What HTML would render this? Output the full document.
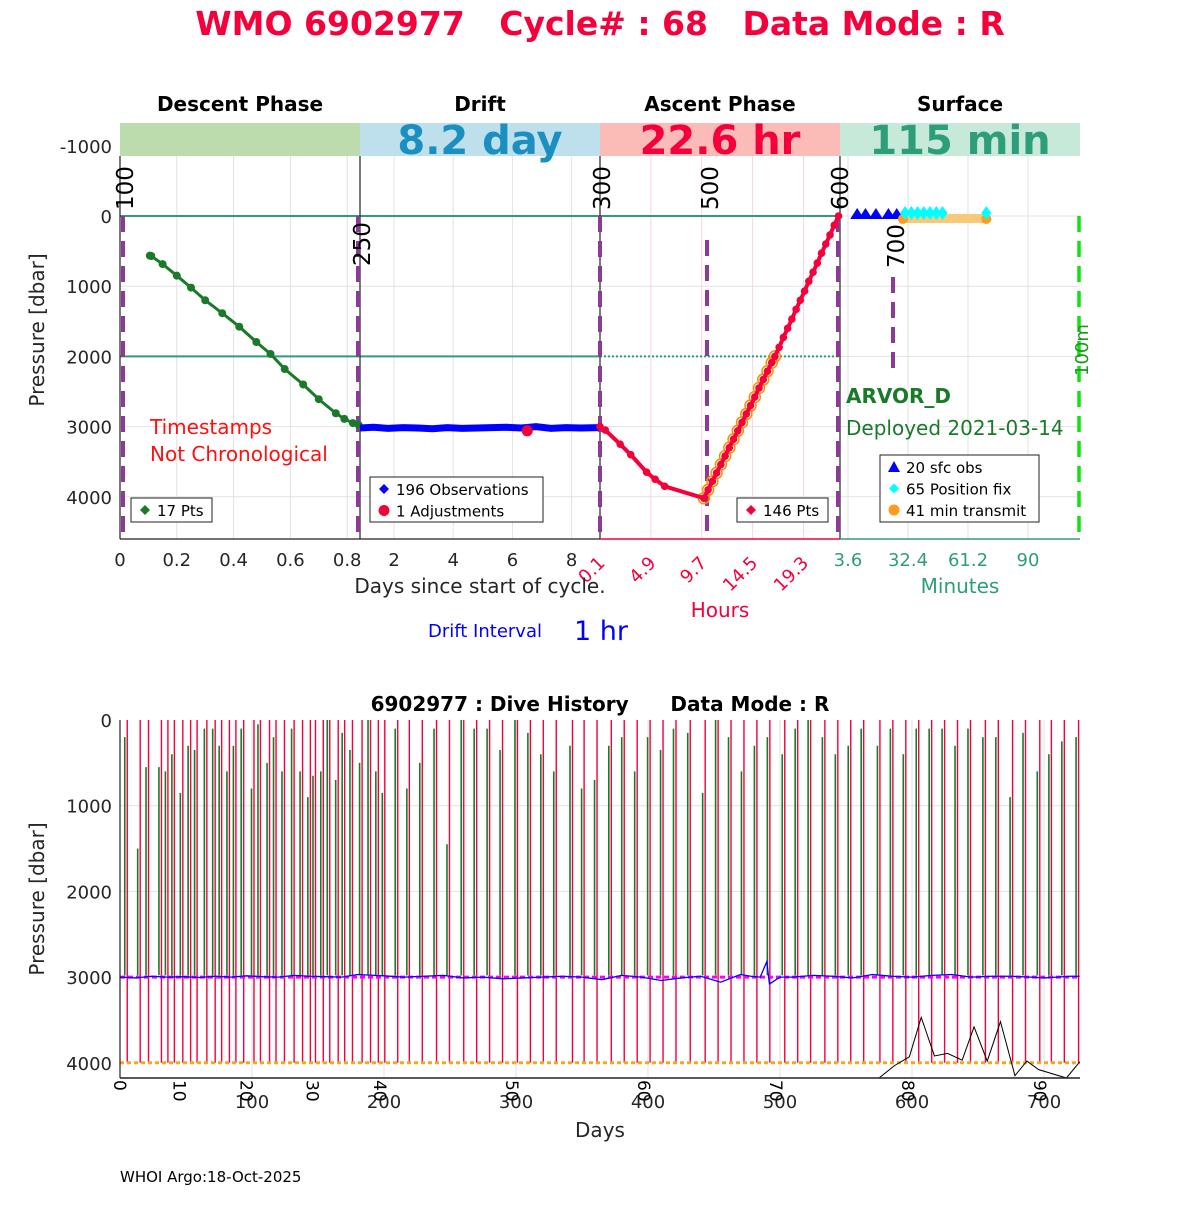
<!DOCTYPE html>
<html><head><meta charset="utf-8"><style>
body{margin:0;background:#fff}
svg text{font-family:"DejaVu Sans","Liberation Sans",sans-serif}
</style></head><body>
<svg id="s" width="1200" height="1200" viewBox="0 0 1200 1200" xmlns="http://www.w3.org/2000/svg">
<rect width="1200" height="1200" fill="#fff"/>
<text x="600" y="35" text-anchor="middle" font-size="33" font-weight="bold" fill="#f5003a" style="white-space:pre">WMO 6902977   Cycle# : 68   Data Mode : R</text>
<g id="top"></g>
<g id="bot"></g>
<text x="120" y="1182" font-size="15" fill="#000">WHOI Argo:18-Oct-2025</text>
</svg>
<script>
// ---- top panel data ----
const descDays=[0.105,0.11,0.15,0.2,0.25,0.3,0.36,0.42,0.48,0.53,0.58,0.645,0.7,0.76,0.79,0.82,0.84];
const descPres=[565,570,685,850,1020,1200,1385,1577,1795,1965,2180,2400,2610,2810,2890,2950,2975];
const driftDays=[0.85,1.3,1.8,2.3,2.8,3.3,3.8,4.3,4.8,5.3,5.8,6.3,6.8,7.3,7.8,8.3,8.9];
const driftPres=[3020,3010,3025,3015,3020,3030,3015,3025,3020,3015,3010,3020,3000,3025,3015,3020,3015];
const adjDays=[6.5];const adjPres=[3060];
const ascHours=[0.1,0.6,2,3,4.5,5.3,6.2,9.9,10.3,10.7,11.1,11.5,11.9,12.3,12.7,13.1,13.5,13.9,14.3,14.7,15.1,15.5,15.9,16.3,16.6,17.0,17.4,17.8,18.2,18.6,19.0,19.4,19.8,20.2,20.6,21.0,21.4,21.8,22.2,22.6];
const ascPres=[3000,3050,3250,3400,3650,3750,3850,4020,3900,3780,3660,3540,3420,3300,3180,3060,2940,2820,2700,2580,2450,2330,2210,2090,2000,1870,1730,1600,1470,1330,1200,1070,930,800,670,530,400,270,130,0];
const ringHours=[9.9,10.3,10.7,11.1,11.5,11.9,12.3,12.7,13.1,13.5,13.9,14.3,14.7,15.1,15.5,15.9,16.3,16.6];
const ringPres=[4020,3900,3780,3660,3540,3420,3300,3180,3060,2940,2820,2700,2580,2450,2330,2210,2090,2000];
const sfcObsMin=[8,12,17,23,27];
const fixMin=[31,34,37,40,43,46,49,70];
const transmitMin=[30,70];
const yTicks=[-1000,0,1000,2000,3000,4000];
const descTicks=[0,0.2,0.4,0.6,0.8];
const driftTicks=[2,4,6,8];
const ascTicks=[0.1,4.9,9.7,14.5,19.3];
const surfTicks=[3.6,32.4,61.2,90];
// ---- bottom panel data ----
const cycleDays=[5.5,15.3,21.6,31.4,36.3,41.2,47.6,53.5,58.4,65.8,72.1,77,82.9,87.8,93.7,101.5,106.4,113.3,118.2,124.6,131.9,138.3,144.2,148.1,154,158.9,165.3,170.2,176.1,183.4,189.8,195.7,200.6,210.4,219.2,229,239.8,249.6,260.4,270.2,280,289.8,301.1,310.9,320.7,330.5,342.8,351.6,361.4,372.2,382,391.8,401.6,411.4,421.2,432,443.3,453.1,462.9,472.7,482.5,492.3,503.6,513.4,523.2,534,543.8,553.6,563.4,575.7,585.5,595.3,605.1,614.9,624.7,634.5,644.3,655.6,665.4,676.2,686,696.8,705.6,715.4,726.2];
const greenTop=[200,1500,550,550,600,400,850,300,350,100,100,300,600,300,100,800,50,500,200,600,100,600,900,650,600,0,700,150,350,500,0,600,850,100,800,500,100,1450,0,100,100,350,0,150,400,600,300,800,700,300,200,600,200,350,100,150,850,0,200,600,300,200,400,100,0,200,400,300,100,300,100,400,100,100,100,300,100,200,200,900,150,600,400,250,200];
const driftHist=[3000,3010,2990,3000,2995,3005,2990,3000,2985,2995,3000,2980,2990,2995,3000,2970,2985,3000,2990,2980,3010,3000,3020,3010,3000,2990,3000,3030,2980,3000,3040,3010,2990,3060,2970,2990,3000,2820,3080,3000,3000,2980,2990,3010,2970,2990,3000,2980,2970,3000,2990,2990,3000,3010,3000,2990,2990];
const driftHistDays=[0,12,24,36,48,60,72,84,96,108,120,132,144,156,168,180,200,215,230,245,260,275,290,305,320,335,350,365,380,395,410,425,440,455,470,478,485,490,492,500,510,525,540,555,570,585,600,615,630,645,660,675,690,700,710,720,727];
const bathyDays=[575,587,598,607,617,627,638,647,657,667,678,687,696,717,727];
const bathyPres=[4200,4030,3930,3470,3920,3890,3970,3580,3980,3520,4150,3980,4080,4200,3990];
const cycLabelDays=[0,45,96,146,197,297,397,497,597,697];
const cycLabels=["0","10","20","30","40","50","60","70","80","90"];
const dayTicks=[100,200,300,400,500,600,700];
const botYTicks=[0,1000,2000,3000,4000];

const NS="http://www.w3.org/2000/svg";
function mk(p,tag,at,txt){const e=document.createElementNS(NS,tag);for(const k in at)e.setAttribute(k,at[k]);if(txt!==undefined)e.textContent=txt;p.appendChild(e);return e;}
const T=document.getElementById('top'),B=document.getElementById('bot');
const descX=d=>120+d*284, driftX=d=>360+(d-0.85)*29.6, ascX=h=>600+(h-0.1)*10.6, surfX=m=>848+(m-3.6)*2.083;
const yT=p=>216+p*0.0702;
const bx=d=>120+d*1.32, by=p=>720+p*0.0857;
let e;
const bands=[[120,"#bcdcad","Descent Phase","",""],[360,"#bde0ec","Drift","8.2 day","#1a8fc0"],[600,"#fbbcb7","Ascent Phase","22.6 hr","#f5003a"],[840,"#c6e9d9","Surface","115 min","#2e9e7a"]];
bands.forEach((b,i)=>{
 e=mk(T,'rect',{x:b[0],y:123,width:240,height:33,fill:b[1]});
 
 e=mk(T,'text',{x:b[0]+120,y:111,'text-anchor':'middle','font-size':20,'font-weight':'bold',fill:'#000'},b[2]);
 
 if(b[3]){e=mk(T,'text',{x:b[0]+120,y:154,'text-anchor':'middle','font-size':40,'font-weight':'bold',fill:b[4]},b[3]);
 }
});
yTicks.forEach(v=>{if(v>=0){mk(T,'line',{x1:120,x2:1080,y1:yT(v),y2:yT(v),stroke:'#e2e2e2'});}
 e=mk(T,'text',{x:112,y:yT(v)+7,'text-anchor':'end','font-size':18,fill:'#262626'},String(v));
 });
descTicks.forEach(v=>{if(v>0)mk(T,'line',{x1:descX(v),x2:descX(v),y1:156,y2:539,stroke:'#e2e2e2'});
 e=mk(T,'text',{x:descX(v),y:566,'text-anchor':'middle','font-size':18,fill:'#262626'},String(v));});
driftTicks.forEach(v=>{mk(T,'line',{x1:driftX(v),x2:driftX(v),y1:156,y2:539,stroke:'#e2e2e2'});
 e=mk(T,'text',{x:driftX(v),y:566,'text-anchor':'middle','font-size':18,fill:'#262626'},String(v));});
ascTicks.forEach(v=>{mk(T,'line',{x1:ascX(v),x2:ascX(v),y1:156,y2:539,stroke:'#fbd5d8'});
 const x=ascX(v)+6;e=mk(T,'text',{x:x,y:564,'text-anchor':'end','font-size':18,fill:'#f5003a',transform:`rotate(-45 ${x} 564)`},String(v));});
surfTicks.forEach(v=>{mk(T,'line',{x1:surfX(v),x2:surfX(v),y1:156,y2:539,stroke:'#e2e2e2'});
 e=mk(T,'text',{x:surfX(v),y:566,'text-anchor':'middle','font-size':18,fill:'#2e9e7a'},String(v));});
mk(T,'line',{x1:120,x2:840,y1:yT(0),y2:yT(0),stroke:'#2e9e7a','stroke-width':2});
mk(T,'line',{x1:120,x2:600,y1:yT(2000),y2:yT(2000),stroke:'#2e9e7a','stroke-width':2});
mk(T,'line',{x1:600,x2:840,y1:yT(2000),y2:yT(2000),stroke:'#2e9e7a','stroke-width':2,'stroke-dasharray':'2,2'});
[120,360,600,840].forEach(x=>mk(T,'line',{x1:x,x2:x,y1:156,y2:539,stroke:'#222','stroke-width':1.2}));
mk(T,'line',{x1:120,x2:600,y1:539,y2:539,stroke:'#222','stroke-width':1.2});
mk(T,'line',{x1:600,x2:840,y1:539,y2:539,stroke:'#f5003a','stroke-width':1.5});
mk(T,'line',{x1:840,x2:1080,y1:539,y2:539,stroke:'#2e9e7a','stroke-width':1.5});
[[123,216,539],[358,216,539],[600,216,539],[707,240,539],[838,216,539],[893,277,375]].forEach(l=>{
 e=mk(T,'line',{x1:l[0],x2:l[0],y1:l[1],y2:l[2],stroke:'#8b3a96','stroke-width':4,'stroke-dasharray':'16,9'});
 });
mk(T,'line',{x1:1079,x2:1079,y1:216,y2:539,stroke:'#11e011','stroke-width':3.5,'stroke-dasharray':'16,9'});
[[125,210,"100"],[362,266,"250"],[602,210,"300"],[710,210,"500"],[840,210,"600"],[896,268,"700"]].forEach(t=>{
 e=mk(T,'text',{x:t[0]+8,y:t[1],'font-size':23,fill:'#000',transform:`rotate(-90 ${t[0]+8} ${t[1]})`},t[2]);
 });
e=mk(T,'text',{x:1088,y:376,'font-size':18,fill:'#1a9a1a',transform:'rotate(-90 1088 376)'},'100m');

e=mk(T,'polyline',{points:descDays.map((d,i)=>descX(d)+','+yT(descPres[i])).join(' '),fill:'none',stroke:'#1a7a2a','stroke-width':3});

descDays.forEach((d,i)=>{e=mk(T,'circle',{cx:descX(d),cy:yT(descPres[i]),r:4,fill:'#1a7a2a'});});
e=mk(T,'polyline',{points:driftDays.map((d,i)=>driftX(d)+','+yT(driftPres[i])).join(' '),fill:'none',stroke:'#0000ff','stroke-width':7});

adjDays.forEach((d,i)=>{e=mk(T,'circle',{cx:driftX(d),cy:yT(adjPres[i]),r:5.5,fill:'#f5003a'});});
ringHours.forEach((h,i)=>{e=mk(T,'circle',{cx:ascX(h),cy:yT(ringPres[i]),r:5.5,fill:'none',stroke:'#ff8c00','stroke-width':1.5});});
e=mk(T,'polyline',{points:ascHours.map((h,i)=>ascX(h)+','+yT(ascPres[i])).join(' '),fill:'none',stroke:'#f5003a','stroke-width':4});

ascHours.forEach((h,i)=>{e=mk(T,'circle',{cx:ascX(h),cy:yT(ascPres[i]),r:3.8,fill:'#f5003a'});});
e=mk(T,'rect',{x:surfX(transmitMin[0]),y:yT(0)-2,width:surfX(transmitMin[1])-surfX(transmitMin[0]),height:9,fill:'#f9c97b'});
sfcObsMin.forEach(m=>{const x=surfX(m);e=mk(T,'polygon',{points:`${x-7},${yT(0)+3} ${x+7},${yT(0)+3} ${x},${yT(0)-8}`,fill:'#0000ff'});});
transmitMin.forEach(m=>{e=mk(T,'circle',{cx:surfX(m),cy:yT(0)+3,r:5,fill:'#ff9a1a'});});
fixMin.forEach(m=>{const x=surfX(m),y=yT(0)-3;e=mk(T,'polygon',{points:`${x},${y-7} ${x+5},${y} ${x},${y+7} ${x-5},${y}`,fill:'#00ffff'});});
[[150,434,"Timestamps"],[150,461,"Not Chronological"]].forEach(t=>{e=mk(T,'text',{x:t[0],y:t[1],'font-size':20,fill:'#ff1010'},t[2]);});
e=mk(T,'text',{x:846,y:403,'font-size':20,'font-weight':'bold',fill:'#1a7a2a'},'ARVOR_D');
e=mk(T,'text',{x:846,y:435,'font-size':20,fill:'#1a7a2a'},'Deployed 2021-03-14');
e=mk(T,'text',{x:480,y:593,'text-anchor':'middle','font-size':20,fill:'#262626'},'Days since start of cycle.');
e=mk(T,'text',{x:720,y:617,'text-anchor':'middle','font-size':20,fill:'#f5003a'},'Hours');
e=mk(T,'text',{x:960,y:593,'text-anchor':'middle','font-size':20,fill:'#2e9e7a'},'Minutes');
e=mk(T,'text',{x:428,y:637,'font-size':18,fill:'#0000ff'},'Drift Interval');
e=mk(T,'text',{x:574,y:640,'font-size':27,fill:'#0000ff'},'1 hr');
e=mk(T,'text',{x:44,y:330,'text-anchor':'middle','font-size':20,fill:'#262626',transform:'rotate(-90 44 330)'},'Pressure [dbar]');
function legend(x,y,w,h,items){const g=mk(T,'g',{});
 mk(g,'rect',{x:x,y:y,width:w,height:h,fill:'#fff',stroke:'#222','stroke-width':1});
 items.forEach((it,i)=>{const cy=y+12+i*21.5;const cx=x+14;
  if(it[0]==='d')mk(g,'polygon',{points:`${cx},${cy-5} ${cx+5},${cy} ${cx},${cy+5} ${cx-5},${cy}`,fill:it[1]});
  else if(it[0]==='c')mk(g,'circle',{cx:cx,cy:cy,r:5.5,fill:it[1]});
  else mk(g,'polygon',{points:`${cx-6},${cy+5} ${cx+6},${cy+5} ${cx},${cy-6}`,fill:it[1]});
  const t=mk(g,'text',{x:x+26,y:cy+6,'font-size':15,fill:'#000'},it[2]);});}
legend(131,498,81,24,[['d','#1a7a2a','17 Pts']]);
legend(370,477,173,45,[['d','#0000ff','196 Observations'],['c','#f5003a','1 Adjustments']]);
legend(737,498,91,24,[['d','#f5003a','146 Pts']]);
legend(880,455,159,67,[['t','#0000ff','20 sfc obs'],['d','#00ffff','65 Position fix'],['c','#ff9a1a','41 min transmit']]);

// ---- bottom panel ----
botYTicks.forEach(v=>{if(v>0&&v<4000)mk(B,'line',{x1:120,x2:1080,y1:by(v),y2:by(v),stroke:'#e2e2e2'});
 e=mk(B,'text',{x:112,y:by(v)+7,'text-anchor':'end','font-size':18,fill:'#262626'},String(v));});
dayTicks.forEach(v=>{mk(B,'line',{x1:bx(v),x2:bx(v),y1:720,y2:1078,stroke:'#e2e2e2'});
 e=mk(B,'text',{x:bx(v),y:1108,'text-anchor':'middle','font-size':18,fill:'#262626'},String(v));});
cycleDays.forEach((d,i)=>{
 e=mk(B,'line',{x1:bx(d)-2.5,x2:bx(d)-2.5,y1:by(greenTop[i]),y2:by(2980),stroke:'#1a7a2a','stroke-width':1.6});
 e=mk(B,'line',{x1:bx(d),x2:bx(d),y1:by(0),y2:by(4000),stroke:'#f5003a','stroke-width':1.4});
});
e=mk(B,'line',{x1:120,x2:1080,y1:by(3000),y2:by(3000),stroke:'#ff00ff','stroke-width':3,'stroke-dasharray':'5,3'});
e=mk(B,'polyline',{points:driftHistDays.map((d,i)=>bx(d)+','+by(driftHist[i])).join(' '),fill:'none',stroke:'#0000ff','stroke-width':1.3});
e=mk(B,'line',{x1:120,x2:1080,y1:by(4000),y2:by(4000),stroke:'#f5a623','stroke-width':3,'stroke-dasharray':'4,3'});
e=mk(B,'polyline',{points:bathyDays.map((d,i)=>bx(d)+','+Math.min(by(bathyPres[i]),1078)).join(' '),fill:'none',stroke:'#000','stroke-width':1});
mk(B,'line',{x1:120,x2:120,y1:720,y2:1078,stroke:'#222','stroke-width':1.2});
mk(B,'line',{x1:120,x2:1080,y1:1078,y2:1078,stroke:'#222','stroke-width':1.5});
cycLabelDays.forEach((d,i)=>{const x=bx(d)-6,y=1080;e=mk(B,'text',{x:x,y:y,'font-size':17,fill:'#000',transform:`rotate(90 ${x} ${y})`},cycLabels[i]);});
e=mk(B,'text',{x:600,y:711,'text-anchor':'middle','font-size':20,'font-weight':'bold',fill:'#000',style:'white-space:pre'},'6902977 : Dive History      Data Mode : R');
e=mk(B,'text',{x:600,y:1137,'text-anchor':'middle','font-size':20,fill:'#262626'},'Days');
e=mk(B,'text',{x:44,y:899,'text-anchor':'middle','font-size':20,fill:'#262626',transform:'rotate(-90 44 899)'},'Pressure [dbar]');
</script>
</body></html>
